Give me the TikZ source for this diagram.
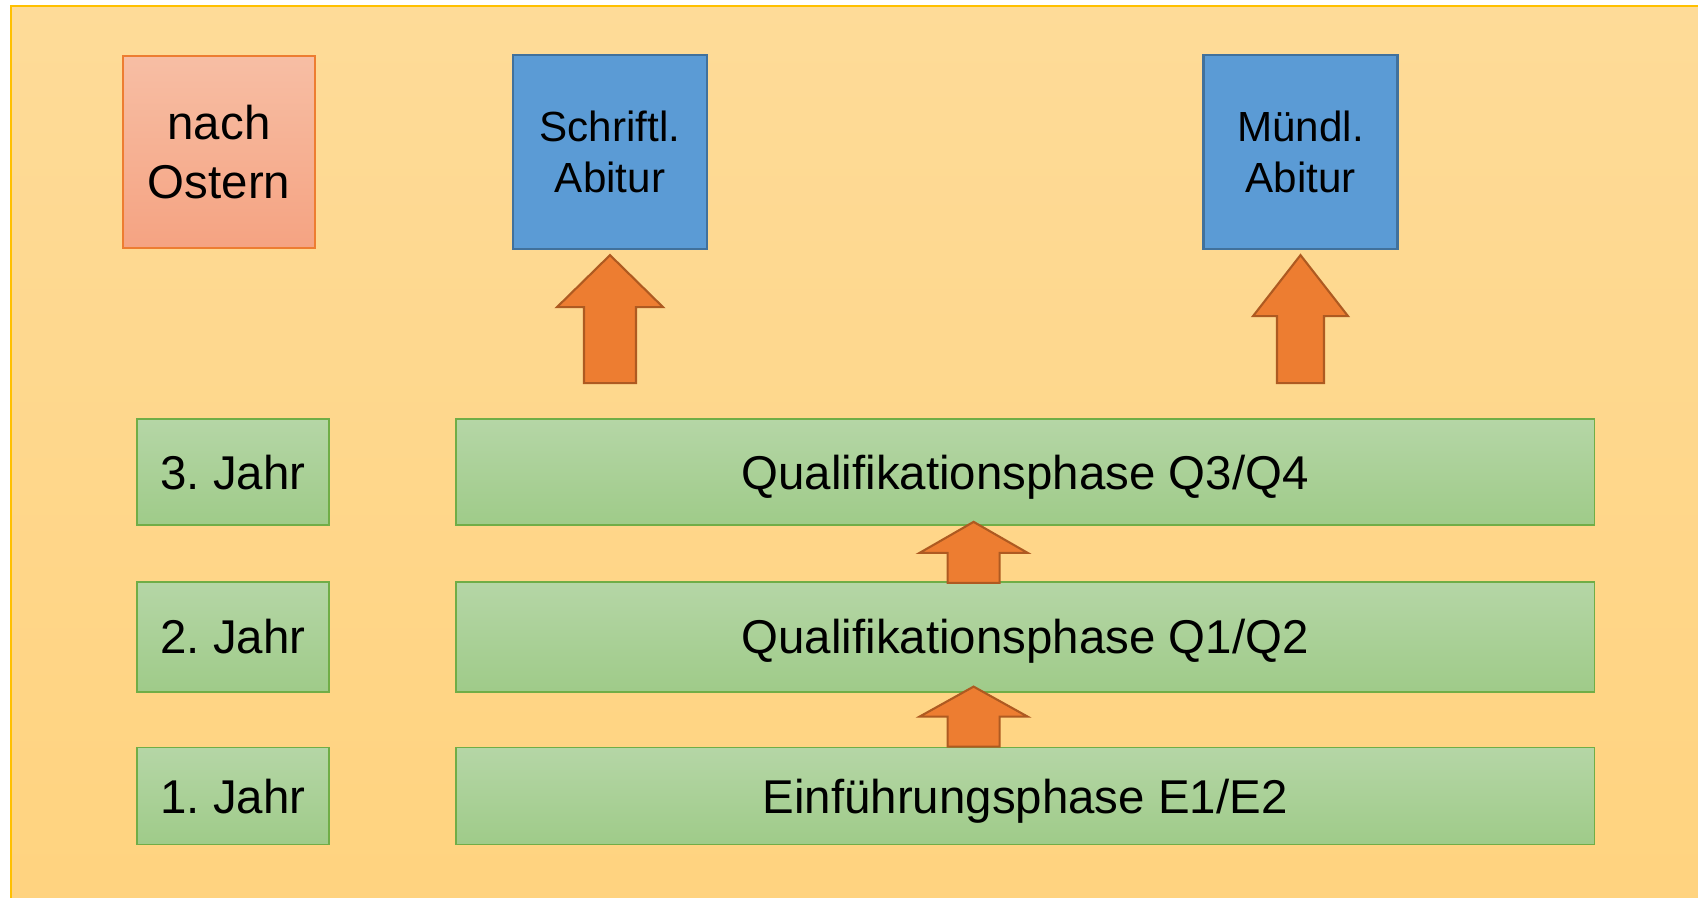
\documentclass[tikz,border=0pt]{standalone}
\usepackage{fontspec}
\setmainfont{Liberation Sans}
\usetikzlibrary{calc,positioning}
\frenchspacing

\definecolor{bgTop}{RGB}{254,219,152}
\definecolor{bgBot}{RGB}{255,211,127}
\definecolor{bgLine}{RGB}{255,192,0}
\definecolor{greenTop}{RGB}{181,214,166}
\definecolor{greenBot}{RGB}{159,203,137}
\definecolor{greenLine}{RGB}{112,173,71}
\definecolor{blueFill}{RGB}{91,155,213}
\definecolor{blueLine}{RGB}{65,113,156}
\definecolor{redTop}{RGB}{247,190,164}
\definecolor{redBot}{RGB}{245,163,130}
\definecolor{redLine}{RGB}{237,125,49}
\definecolor{arrowFill}{RGB}{237,125,49}
\definecolor{arrowLine}{RGB}{174,90,33}

% block arrow pointing up: tip, foot, head length, half head width, half shaft width
\newcommand{\upblock}[5]{%
  \draw[blockArrow] (#1) -- ($(#1)+(#4,#3)$) -- ($(#1)+(#5,#3)$) -- ($(#2)+(#5,0)$)
    -- ($(#2)+(-#5,0)$) -- ($(#1)+(-#5,#3)$) -- ($(#1)+(-#4,#3)$) -- cycle;}

\begin{document}
\begin{tikzpicture}[x=0.02cm,y=-0.02cm,
  redBox/.style={draw=redLine, line width=1pt, top color=redTop, bottom color=redBot,
    minimum width=3.84cm, minimum height=3.84cm, inner sep=0pt, align=center,
    font=\fontsize{27}{34}\selectfont},
  blueBox/.style={draw=blueLine, line width=1.3pt, fill=blueFill,
    minimum width=3.88cm, minimum height=3.88cm, inner sep=0pt, align=center,
    font=\fontsize{24}{29}\selectfont},
  yearBox/.style={draw=greenLine, line width=1pt, top color=greenTop, bottom color=greenBot,
    minimum width=3.84cm, inner sep=0pt, text height=19.4pt, text depth=0pt,
    font=\fontsize{27}{34}\selectfont},
  phaseBox/.style={yearBox, minimum width=22.78cm},
  blockArrow/.style={draw=arrowLine, line width=1.2pt, fill=arrowFill, line join=miter}]
  \useasboundingbox (0,0) rectangle (1698,897);
  \fill[white] (0,0) rectangle (1698,897);
  % background panel
  \draw[bgLine, line width=0.8pt, top color=bgTop, bottom color=bgBot] (11,6) rectangle (1710,910);

  % top row
  \node[redBox] (nach) at (219,152) {nach\\Ostern};
  \node[blueBox] (schrift) at (610,152) {Schriftl.\\Abitur};
  \node[blueBox] (muendl) at (1300.5,152) {Mündl.\\Abitur};

  % years and phases
  \node[yearBox, minimum height=2.12cm] (j3) at (233,472) {3. Jahr};
  \node[yearBox, minimum height=2.2cm, below=1.1cm of j3] (j2) {2. Jahr};
  \node[yearBox, minimum height=1.94cm, below=1.08cm of j2] (j1) {1. Jahr};
  \node[phaseBox, minimum height=2.12cm, right=2.5cm of j3] (q34) {Qualifikationsphase Q3/Q4};
  \node[phaseBox, minimum height=2.2cm, right=2.5cm of j2] (q12) {Qualifikationsphase Q1/Q2};
  \node[phaseBox, minimum height=1.94cm, right=2.5cm of j1] (e12) {Einführungsphase E1/E2};

  % arrows
  \coordinate (t1) at ($(schrift.south)+(0,5)$);
  \coordinate (f1) at ($(schrift.south |- q34.north)+(0,-35)$);
  \upblock{t1}{f1}{52}{53}{26}
  \coordinate (t2) at ($(muendl.south)+(0,5)$);
  \coordinate (f2) at ($(muendl.south |- q34.north)+(0,-35)$);
  \upblock{t2}{f2}{61}{47.5}{23.5}
  \coordinate (t3) at ($(q34.south)+(-51.5,-4)$);
  \coordinate (f3) at ($(q12.north)+(-51.5,2)$);
  \upblock{t3}{f3}{31}{54}{26}
  \coordinate (t4) at ($(q12.south)+(-51.5,-6)$);
  \coordinate (f4) at ($(e12.north)+(-51.5,0)$);
  \upblock{t4}{f4}{30}{54}{26}
\end{tikzpicture}
\end{document}
